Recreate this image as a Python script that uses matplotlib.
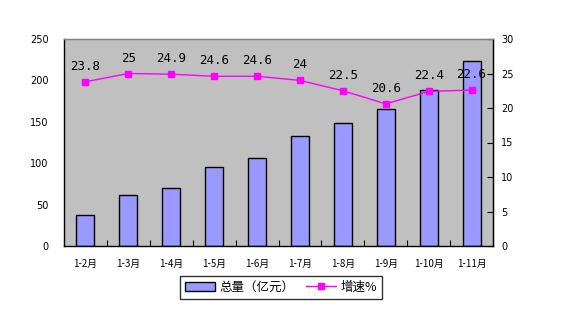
import matplotlib
matplotlib.use("Agg")
import matplotlib.pyplot as plt
import numpy as np

plt.rcParams['font.family'] = ['Noto Sans CJK SC', 'DejaVu Sans']

categories = ["1-2月", "1-3月", "1-4月", "1-5月", "1-6月", "1-7月", "1-8月", "1-9月", "1-10月", "1-11月"]
totals = [38, 61, 70, 95, 106, 133, 148, 165, 188, 224]
growth = [23.8, 25, 24.9, 24.6, 24.6, 24, 22.5, 20.6, 22.4, 22.6]
growth_labels = ["23.8", "25", "24.9", "24.6", "24.6", "24", "22.5", "20.6", "22.4", "22.6"]
left_ticks = [0, 50, 100, 150, 200, 250]
right_ticks = [0, 5, 10, 15, 20, 25, 30]

fig = plt.figure(figsize=(5.64, 3.12), dpi=100)
ax = fig.add_axes([64/564, 1-246/312, (493-64)/564, (246-39)/312])
ax.set_facecolor('#c0c0c0')
x = np.arange(len(categories))
ax.bar(x, totals, width=0.42, color='#9999ff', edgecolor='black', linewidth=1.0, zorder=2, label='总量（亿元）')
ax.set_xlim(-0.5, len(categories)-0.5)
ax.set_ylim(0, 250)
ax.set_yticks(left_ticks)
ax.set_yticklabels([str(v) for v in left_ticks], fontsize=7, family='DejaVu Sans')
ax.tick_params(axis='y', length=0, pad=11)
ax.set_xticks(x)
ax.set_xticklabels(categories, fontsize=7)
ax.tick_params(axis='x', length=0, pad=9)
ax.set_xticks(np.arange(len(categories)+1)-0.5, minor=True)
ax.tick_params(axis='x', which='minor', direction='in', length=4, width=0.8)
ax.spines['top'].set_color('#808080')
for s in ['left', 'bottom', 'right']:
    ax.spines[s].set_color('black')
for s in ax.spines.values():
    s.set_linewidth(1.0)

ax2 = ax.twinx()
ax2.plot(x, growth, color='#ff00ff', marker='s', markersize=5, linewidth=1, label='增速%', zorder=3)
ax2.set_ylim(0, 30)
ax2.set_yticks(right_ticks)
ax2.set_yticklabels([str(v) for v in right_ticks], fontsize=7, family='DejaVu Sans')
ax2.tick_params(axis='y', direction='in', length=4, width=0.8, pad=6)
ax2.spines['top'].set_color('#808080')
ax2.spines['left'].set_visible(False)
ax2.spines['bottom'].set_visible(False)
ax2.spines['right'].set_color('black')
for xi, g, lab in zip(x, growth, growth_labels):
    ax2.text(xi, g + 1.3, lab, ha='center', va='bottom', fontsize=9, family='DejaVu Sans Mono', color='black')

h1, l1 = ax.get_legend_handles_labels()
h2, l2 = ax2.get_legend_handles_labels()
leg = fig.legend(h1 + h2, l1 + l2, loc='center', bbox_to_anchor=(281/564, 1-287/312), ncol=2,
                 fontsize=9, frameon=True, fancybox=False, edgecolor='black', handlelength=2.4,
                 handletextpad=0.4, columnspacing=0.9, borderpad=0.4)
leg.get_frame().set_linewidth(1.0)

fig.savefig('out.png', dpi=100)
